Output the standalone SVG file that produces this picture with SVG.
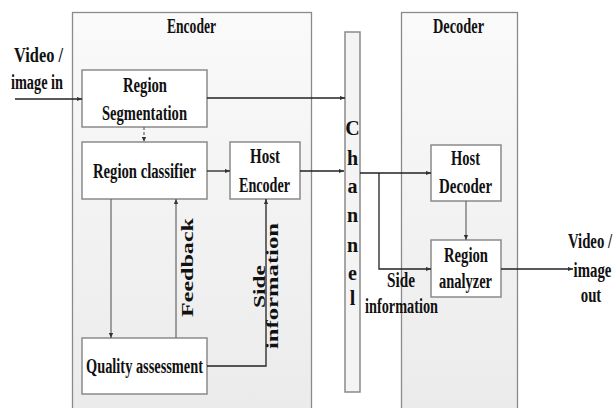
<svg xmlns="http://www.w3.org/2000/svg" width="616" height="408" viewBox="0 0 616 408">
<defs>
<linearGradient id="bg" x1="0" y1="0" x2="0" y2="1">
<stop offset="0" stop-color="#fafafa"/>
<stop offset="1" stop-color="#ebebeb"/>
</linearGradient>
<marker id="ah" viewBox="0 0 6 6" refX="6" refY="3" markerWidth="5" markerHeight="5" markerUnits="userSpaceOnUse" orient="auto">
<path d="M0,0.5 L6,3 L0,5.5 z" fill="#333"/>
</marker>
</defs>
<style>
.panel{fill:url(#bg);stroke:#8a8a8a;stroke-width:1.3}
.box{fill:#fff;stroke:#8a8a8a;stroke-width:1.5}
.chan{fill:#f4f4f4;stroke:#8a8a8a;stroke-width:1.5}
.t{font-family:"Liberation Serif","Times New Roman",serif;font-weight:bold;font-size:20px;fill:#111;text-anchor:middle}
.r{font-family:"Liberation Serif","DejaVu Serif",serif;font-weight:bold;font-size:16px;fill:#111;text-anchor:middle}
.c{fill:none;stroke:#222;stroke-width:1.3}
.g{fill:none;stroke:#666;stroke-width:1.2}
</style>
<g id="encoder">
<rect class="panel" x="72.5" y="12.5" width="239" height="400"/>
<text class="t" x="191.5" y="33" textLength="49" lengthAdjust="spacingAndGlyphs">Encoder</text>
</g>
<g id="decoder">
<rect class="panel" x="401.5" y="12.5" width="116" height="400"/>
<text class="t" x="458.5" y="33" textLength="51" lengthAdjust="spacingAndGlyphs">Decoder</text>
</g>
<g id="channel">
<rect class="chan" x="345" y="32" width="15" height="360"/>
<text class="t" x="352.5" y="135" font-size="21">C</text>
<text class="t" x="352.5" y="165" font-size="21">h</text>
<text class="t" x="352.5" y="193" font-size="21">a</text>
<text class="t" x="352.5" y="222" font-size="21">n</text>
<text class="t" x="352.5" y="252" font-size="21">n</text>
<text class="t" x="352.5" y="280" font-size="21">e</text>
<text class="t" x="352.5" y="305" font-size="21">l</text>
</g>
<g id="input-label">
<text class="t" x="38.5" y="62" textLength="49" lengthAdjust="spacingAndGlyphs">Video /</text>
<text class="t" x="37" y="89" textLength="52" lengthAdjust="spacingAndGlyphs">image in</text>
</g>
<g id="region-segmentation">
<rect class="box" x="82" y="70" width="125" height="57"/>
<text class="t" x="145" y="92" textLength="44" lengthAdjust="spacingAndGlyphs">Region</text>
<text class="t" x="144.5" y="120" textLength="85" lengthAdjust="spacingAndGlyphs">Segmentation</text>
</g>
<g id="region-classifier">
<rect class="box" x="82" y="142" width="125" height="57"/>
<text class="t" x="144.5" y="178" textLength="103" lengthAdjust="spacingAndGlyphs">Region classifier</text>
</g>
<g id="host-encoder">
<rect class="box" x="230" y="142" width="70" height="57"/>
<text class="t" x="265" y="163" textLength="30" lengthAdjust="spacingAndGlyphs">Host</text>
<text class="t" x="264.5" y="192" textLength="51" lengthAdjust="spacingAndGlyphs">Encoder</text>
</g>
<g id="quality-assessment">
<rect class="box" x="82" y="338" width="125" height="56"/>
<text class="t" x="144.5" y="373" textLength="117" lengthAdjust="spacingAndGlyphs">Quality assessment</text>
</g>
<g id="host-decoder">
<rect class="box" x="431" y="145" width="70" height="56"/>
<text class="t" x="465.5" y="165" textLength="29" lengthAdjust="spacingAndGlyphs">Host</text>
<text class="t" x="465.5" y="193" textLength="53" lengthAdjust="spacingAndGlyphs">Decoder</text>
</g>
<g id="region-analyzer">
<rect class="box" x="431" y="240" width="70" height="57"/>
<text class="t" x="466" y="262" textLength="44" lengthAdjust="spacingAndGlyphs">Region</text>
<text class="t" x="465.5" y="288" textLength="53" lengthAdjust="spacingAndGlyphs">analyzer</text>
</g>
<g id="output-label">
<text class="t" transform="translate(590,248) scale(0.74,1)">Video /</text>
<text class="t" transform="translate(592.5,277) scale(0.74,1)">image</text>
<text class="t" transform="translate(591,302) scale(0.74,1)">out</text>
</g>
<g id="connectors">
<path class="c" d="M15,99 H82" marker-end="url(#ah)"/>
<path class="c" d="M207,98 H345" marker-end="url(#ah)"/>
<path class="g" d="M144,127 V142" stroke-dasharray="3,2" marker-end="url(#ah)"/>
<path class="c" d="M207,171 H230" marker-end="url(#ah)"/>
<path class="c" d="M300,171 H344" marker-end="url(#ah)"/>
<path class="c" d="M360,173 H431" marker-end="url(#ah)"/>
<path class="c" d="M379,173 V269 H431" marker-end="url(#ah)"/>
<path class="g" d="M466,201 V240" marker-end="url(#ah)"/>
<path class="c" d="M501,269 H573" marker-end="url(#ah)"/>
<path class="g" d="M111,199 V338" marker-end="url(#ah)"/>
<path class="g" d="M176,338 V199" marker-end="url(#ah)"/>
<path class="c" d="M207,366 H266 V199" marker-end="url(#ah)"/>
<text class="r" transform="translate(193,267.5) rotate(-90)" textLength="99" lengthAdjust="spacingAndGlyphs">Feedback</text>
<text class="r" transform="translate(265,286.5) rotate(-90)" textLength="43" lengthAdjust="spacingAndGlyphs">Side</text>
<text class="r" transform="translate(278,286) rotate(-90)" textLength="126" lengthAdjust="spacingAndGlyphs">information</text>
<text class="t" x="401" y="287" textLength="28" lengthAdjust="spacingAndGlyphs">Side</text>
<text class="t" x="401.5" y="313" textLength="73" lengthAdjust="spacingAndGlyphs">information</text>
</g>
</svg>
